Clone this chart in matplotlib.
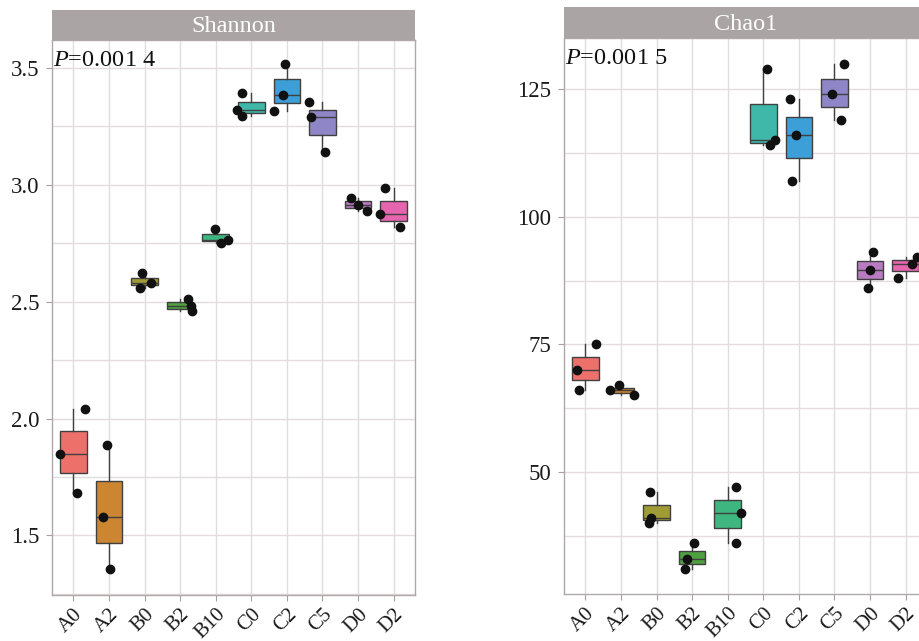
import matplotlib
matplotlib.use('Agg')
import matplotlib.pyplot as plt
import matplotlib.transforms as mtransforms
import numpy as np

plt.rcParams['font.family'] = ['Liberation Serif', 'DejaVu Serif']
plt.rcParams['mathtext.fontset'] = 'custom'
plt.rcParams['mathtext.rm'] = 'Liberation Serif'
plt.rcParams['mathtext.it'] = 'Liberation Serif:italic'

groups = ['A0', 'A2', 'B0', 'B2', 'B10', 'C0', 'C2', 'C5', 'D0', 'D2']
colors = ['#EE706B', '#CC8530', '#A09C35', '#4FA040', '#3DB77F',
          '#3FB8A9', '#3C9FD8', '#8F86C8', '#B97BC1', '#E565AE']

shannon = [[1.85, 2.04, 1.68], [1.885, 1.577, 1.356], [2.623, 2.580, 2.559],
           [2.513, 2.482, 2.460], [2.812, 2.765, 2.751], [3.392, 3.321, 3.296],
           [3.516, 3.386, 3.318], [3.353, 3.289, 3.141], [2.944, 2.888, 2.916],
           [2.986, 2.876, 2.819]]
shannon_jitter = [[-0.38, 0.32, 0.09], [-0.05, -0.16, 0.03], [-0.07, 0.17, -0.13],
                  [0.23, 0.31, 0.33], [-0.03, 0.34, 0.14], [-0.25, -0.39, -0.25],
                  [-0.06, -0.12, -0.36], [-0.38, -0.33, 0.07], [-0.20, 0.24, 0.0],
                  [-0.25, -0.39, 0.17]]

chao1 = [[75, 70, 66], [67, 66, 65], [46, 41, 40], [36, 33, 31], [47, 42, 36],
         [129, 115, 114], [123, 116, 107], [130, 124, 119], [93, 86, 89.5],
         [88, 90.8, 92.2]]
chao1_jitter = [[0.30, -0.23, -0.19], [-0.05, -0.32, 0.36], [-0.18, -0.15, -0.22],
                [0.04, -0.13, -0.19], [0.23, 0.36, 0.23], [0.11, 0.32, 0.19],
                [-0.24, -0.08, -0.20], [0.28, -0.08, 0.17], [0.09, -0.05, 0.0],
                [-0.22, 0.18, 0.32]]


def panel(fig, rect, strip_h, data, jitter, title, ptext, ylim, major, minor):
    ax = fig.add_axes(rect)
    pos = np.arange(1, len(groups) + 1)

    bp = ax.boxplot(data, positions=pos, widths=0.75, patch_artist=True,
                    whis=(0, 100), showcaps=False, showfliers=False,
                    boxprops=dict(edgecolor='#404040', linewidth=1.0),
                    whiskerprops=dict(color='#404040', linewidth=1.0),
                    medianprops=dict(color='#404040', linewidth=1.0))
    for patch, c in zip(bp['boxes'], colors):
        patch.set_facecolor(c)

    for i, (vals, jit) in enumerate(zip(data, jitter)):
        ax.scatter(pos[i] + np.array(jit), vals, s=36, color='#111111', zorder=5)

    ax.set_xlim(0.4, len(groups) + 0.6)
    ax.set_ylim(*ylim)
    ax.set_yticks(major)
    ax.set_yticks(minor, minor=True)
    ax.set_xticks(pos)
    ax.set_xticklabels(groups, rotation=45, ha='right', va='top',
                       rotation_mode='anchor', fontsize=15, color='#1a1a1a')
    # nudge rotated labels a little to the right, as in ggplot
    shift = mtransforms.ScaledTranslation(7 / 100, 2 / 100, fig.dpi_scale_trans)
    for lab in ax.get_xticklabels():
        lab.set_transform(lab.get_transform() + shift)
    ax.tick_params(axis='y', which='major', labelsize=16.5, labelcolor='#1a1a1a',
                   length=4, color='#a8a0a0', pad=5)
    ax.tick_params(axis='y', which='minor', length=0)
    ax.tick_params(axis='x', length=4, color='#a8a0a0', pad=3)
    ax.grid(True, which='both', color='#e2dcdc', linewidth=1.0)
    ax.set_axisbelow(True)
    for s in ax.spines.values():
        s.set_color('#b0a8a8')
        s.set_linewidth(1.0)

    ax.text(0.004, 1 - 21 / (rect[3] * 641), ptext, transform=ax.transAxes,
            fontsize=17.5, va='center', ha='left', color='#111111')

    sax = fig.add_axes([rect[0], rect[1] + rect[3], rect[2], strip_h])
    sax.set_facecolor('#aba4a4')
    sax.set_xticks([])
    sax.set_yticks([])
    for s in sax.spines.values():
        s.set_visible(False)
    sax.text(0.5, 0.45, title, transform=sax.transAxes, ha='center', va='center',
             fontsize=17.5, color='white')
    return ax


fig = plt.figure(figsize=(9.19, 6.41), dpi=100)
fig.patch.set_facecolor('white')

panel(fig, [52 / 919, 46 / 641, 363 / 919, 555 / 641], 30 / 641,
      shannon, shannon_jitter, 'Shannon', r'$\it{P}$=0.001 4',
      (1.245, 3.62), [1.5, 2.0, 2.5, 3.0, 3.5], [1.25, 1.75, 2.25, 2.75, 3.25])
panel(fig, [564 / 919, 47 / 641, 363 / 919, 556 / 641], 31 / 641,
      chao1, chao1_jitter, 'Chao1', r'$\it{P}$=0.001 5',
      (26.1, 135.0), [50, 75, 100, 125], [37.5, 62.5, 87.5, 112.5])

fig.savefig('out.png', dpi=100)
